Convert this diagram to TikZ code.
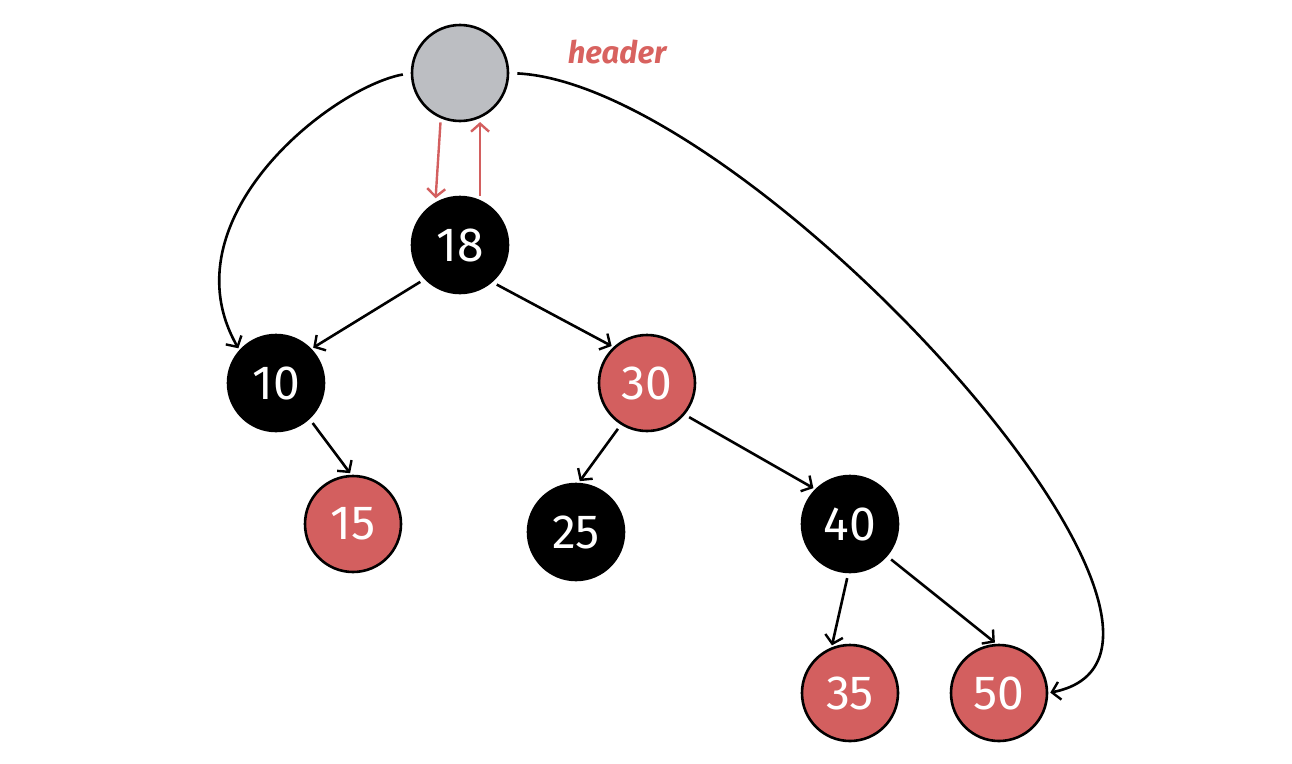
\documentclass[tikz,border=0pt]{standalone}
\usepackage{fontspec}
\setmainfont{Fira Sans}
\usetikzlibrary{arrows.meta}
\definecolor{rbred}{HTML}{D35F5F}
\definecolor{hdrgray}{HTML}{BCBEC2}
\definecolor{lblred}{HTML}{D8625F}
\tikzset{
  tnode/.style={circle, draw=black, line width=2.6pt, minimum size=96pt, inner sep=0pt, text=white, font=\fontsize{48}{50}\selectfont},
  blk/.style={tnode, fill=black},
  rd/.style={tnode, fill=rbred},
  hdr/.style={tnode, fill=hdrgray},
  tip/.style={-{Straight Barb[length=8pt,width=18pt,line width=2.4pt]}},
  edge/.style={line width=2.6pt, draw=black, tip, shorten <=5pt, shorten >=2pt},
  redge/.style={line width=2.4pt, draw=rbred, tip, shorten <=4pt, shorten >=4pt},
  lbl/.style={text=lblred, font=\fontsize{31}{34}\selectfont\bfseries\itshape}
}
\begin{document}
\begin{tikzpicture}[x=1pt,y=-1pt]
\useasboundingbox (0,0) rectangle (1292,763);
\node[hdr] (h) at (460,73) {};
\node[lbl] (hl) at (617,52) {header};
\node[blk] (n18) at (460,245) {18};
\node[blk] (n10) at (276,383) {10};
\node[rd] (n30) at (647,383) {30};
\node[rd] (n15) at (353,524) {15};
\node[blk] (n25) at (576,532) {25};
\node[blk] (n40) at (850,524) {40};
\node[rd] (n35) at (850,693) {35};
\node[rd] (n50) at (999,693) {50};

\draw[edge] (n18.-136) -- (n10.44);
\draw[edge] (n18.-49) -- (n30.133);
\draw[edge] (n10.-47) -- (n15.92);
\draw[edge] (n30.-122) -- (n25.87);
\draw[edge] (n30.-40) -- (n40.135);
\draw[edge] (n40.-92) -- (n35.112);
\draw[edge] (n40.-41) -- (n50.93);

\draw[redge] (h.-113) -- (n18.120);
\draw[redge] (n18.66) -- (h.-66);

\draw[edge, shorten <=8pt] (h.180) .. controls (330,88) and (165,220) .. (n10.138);
\draw[edge, shorten <=8pt] (h.0) .. controls (750,85) and (1265,650) .. (n50.0);
\end{tikzpicture}
\end{document}
